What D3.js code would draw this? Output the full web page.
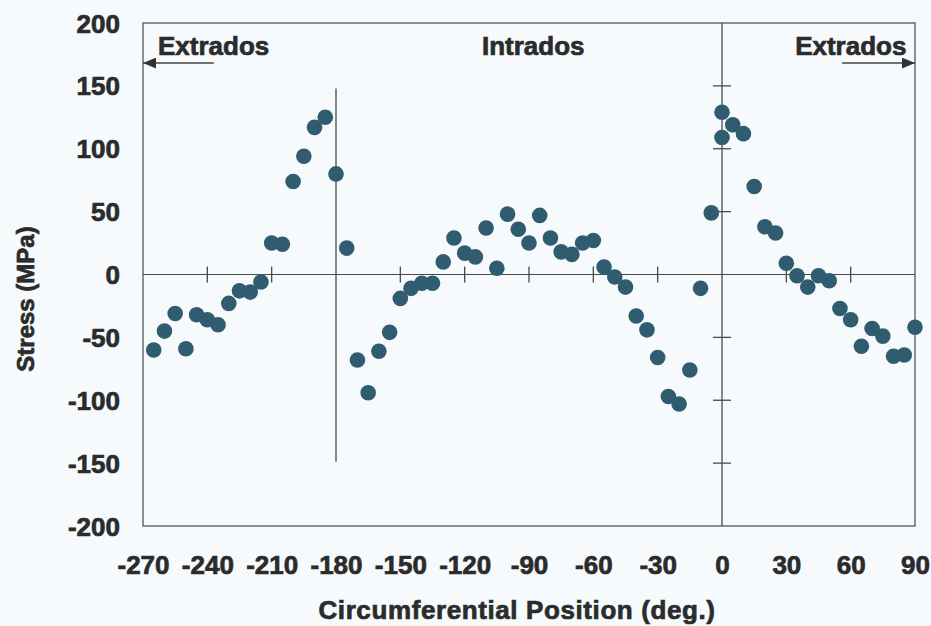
<!DOCTYPE html>
<html>
<head>
<meta charset="utf-8">
<script src="https://cdn.jsdelivr.net/npm/d3@7"></script>
<style>
  html, body { margin: 0; padding: 0; background: #f6fafc; }
  svg { display: block; }
  text { font-family: "Liberation Sans", Arial, sans-serif; font-weight: bold; fill: #2b2b2b; stroke: #2b2b2b; stroke-width: 0.7px; }
</style>
</head>
<body>
<svg id="chart" width="931" height="626"></svg>
<script>
// ---- data ----
const positions = [-265,-260,-255,-250,-245,-240,-235,-230,-225,-220,-215,-210,-205,-200,-195,-190,-185,-180,-175,-170,-165,-160,-155,-150,-145,-140,-135,-130,-125,-120,-115,-110,-105,-100,-95,-90,-85,-80,-75,-70,-65,-60,-55,-50,-45,-40,-35,-30,-25,-20,-15,-10,-5,0,0,5,10,15,20,25,30,35,40,45,50,55,60,65,70,75,80,85,90];
const stress = [-60,-45,-31,-59,-32,-36,-40,-23,-13,-14,-6,25,24,74,94,117,125,80,21,-68,-94,-61,-46,-19,-11,-7,-7,10,29,17,14,37,5,48,36,25,47,29,18,16,25,27,6,-2,-10,-33,-44,-66,-97,-103,-76,-11,49,129,109,119,112,70,38,33,9,-1,-10,-1,-5,-27,-36,-57,-43,-49,-65,-64,-42];
const xTicks = [-270,-240,-210,-180,-150,-120,-90,-60,-30,0,30,60,90];
const yTicks = [200,150,100,50,0,-50,-100,-150,-200];
const zeroLineTicks = [-240,-210,-150,-120,-90,-60,-30,30,60];
const centerLineTicks = [150,100,50,-50,-100,-150];
const regionLabels = [
  {text: "Extrados", pos: -263, anchor: "start"},
  {text: "Intrados", pos: -88, anchor: "middle"},
  {text: "Extrados", pos: 86, anchor: "end"}
];
const arrows = [
  {from: -237, to: -270},
  {from: 56, to: 90}
];
const xTitle = "Circumferential Position (deg.)";
const yTitle = "Stress (MPa)";

// ---- layout ----
const svg = d3.select("#chart");
const L = 143, R = 915, T = 23, B = 526;
const x = d3.scaleLinear().domain([-270, 90]).range([L, R]);
const y = d3.scaleLinear().domain([-200, 200]).range([B, T]);
const ink = "#4a4a4a";
const fmt = d => String(d);

// frame
svg.append("rect").attr("x", L).attr("y", T).attr("width", R - L).attr("height", B - T)
  .attr("fill", "none").attr("stroke", "#555").attr("stroke-width", 1.3);

// zero line
svg.append("line").attr("x1", L).attr("x2", R).attr("y1", y(0)).attr("y2", y(0))
  .attr("stroke", ink).attr("stroke-width", 1.2);
svg.selectAll(".zt").data(zeroLineTicks).join("line")
  .attr("x1", d => x(d)).attr("x2", d => x(d))
  .attr("y1", y(0) - 8).attr("y2", y(0) + 8)
  .attr("stroke", ink).attr("stroke-width", 1.3);

// vertical line at 0
svg.append("line").attr("x1", x(0)).attr("x2", x(0)).attr("y1", T).attr("y2", B)
  .attr("stroke", ink).attr("stroke-width", 1.3);
svg.selectAll(".ct").data(centerLineTicks).join("line")
  .attr("x1", x(0) - 9).attr("x2", x(0) + 9)
  .attr("y1", d => y(d)).attr("y2", d => y(d))
  .attr("stroke", ink).attr("stroke-width", 1.3);

// vertical line at -180
svg.append("line").attr("x1", x(-180)).attr("x2", x(-180)).attr("y1", y(148)).attr("y2", y(-149))
  .attr("stroke", ink).attr("stroke-width", 1.3);

// axes (labels only)
const gx = svg.append("g").attr("transform", `translate(0,${B + 39})`)
  .call(d3.axisBottom(x).tickValues(xTicks).tickSize(0).tickPadding(0).tickFormat(fmt));
gx.select(".domain").remove();
gx.selectAll("text").attr("font-size", 26).attr("dy", "0.35em")
  .style("font-family", '"Liberation Sans", Arial, sans-serif').style("font-weight", "bold")
  .attr("fill", "#2b2b2b").attr("stroke", "#2b2b2b").attr("stroke-width", 0.7);

const gy = svg.append("g").attr("transform", `translate(${L - 23},0)`)
  .call(d3.axisLeft(y).tickValues(yTicks).tickSize(0).tickPadding(0).tickFormat(fmt));
gy.select(".domain").remove();
gy.selectAll("text").attr("font-size", 26).attr("dy", "0.35em")
  .style("font-family", '"Liberation Sans", Arial, sans-serif').style("font-weight", "bold")
  .attr("fill", "#2b2b2b").attr("stroke", "#2b2b2b").attr("stroke-width", 0.7);

// titles
svg.append("text").attr("x", (L + R) / 2 - 12).attr("y", 619).attr("text-anchor", "middle")
  .attr("font-size", 26).attr("letter-spacing", 0.6).text(xTitle);
svg.append("text").attr("transform", "translate(34,299) rotate(-90)").attr("text-anchor", "middle")
  .attr("font-size", 24).text(yTitle);

// region labels
svg.selectAll(".rl").data(regionLabels).join("text")
  .attr("x", d => x(d.pos)).attr("y", 55).attr("text-anchor", d => d.anchor)
  .attr("font-size", 26).text(d => d.text);

// arrows
const defs = svg.append("defs");
defs.append("marker").attr("id", "ah").attr("viewBox", "0 0 12 10").attr("refX", 12).attr("refY", 5)
  .attr("markerUnits", "userSpaceOnUse").attr("markerWidth", 13).attr("markerHeight", 11).attr("orient", "auto")
  .append("path").attr("d", "M0,0 L12,5 L0,10 Z").attr("fill", "#333");
svg.selectAll(".ar").data(arrows).join("line")
  .attr("x1", d => x(d.from)).attr("x2", d => x(d.to))
  .attr("y1", 63).attr("y2", 63)
  .attr("stroke", "#444").attr("stroke-width", 1.5).attr("marker-end", "url(#ah)");

// points
svg.selectAll(".pt").data(positions.map((p, i) => ({p, s: stress[i]}))).join("circle")
  .attr("cx", d => x(d.p)).attr("cy", d => y(d.s)).attr("r", 7.8)
  .attr("fill", "#305c70");
</script>
</body>
</html>
